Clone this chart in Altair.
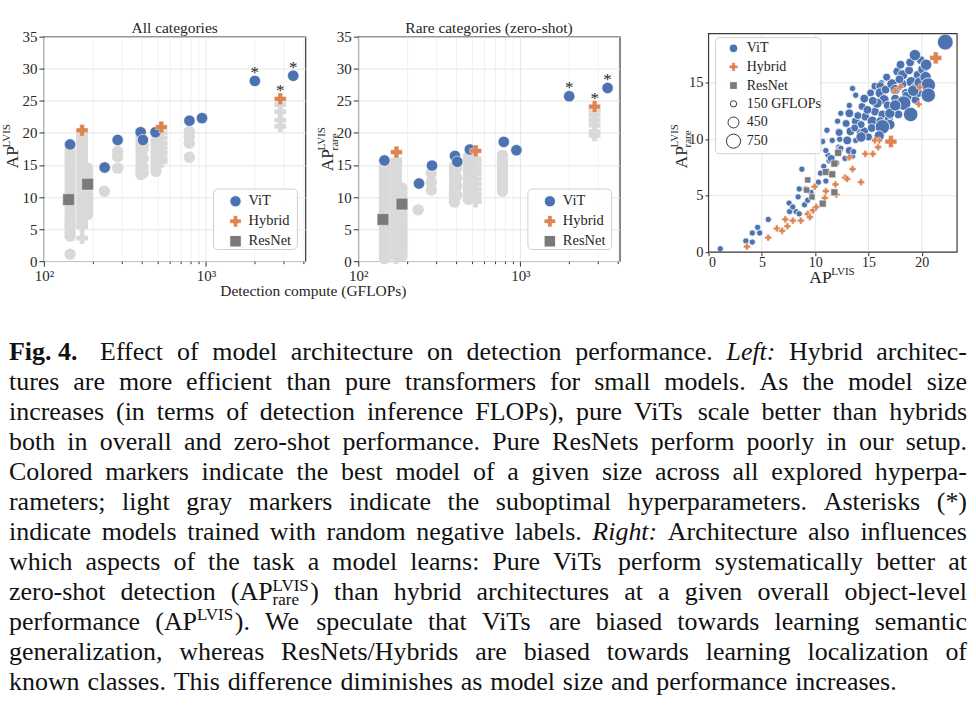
import re
import altair as alt
import pandas as pd

FONT = "Liberation Serif"
BLUE = "#4c72b0"
ORANGE = "#dd8452"
DARKGRAY = "#7a7a7a"
LIGHTGRAY = "#d9d9d9"
TXT = "#262626"
FRAME = "#3a3a3a"
GRID = "#e6e6e6"

# ---------------- left panels: best models ----------------
vit_gflops = [145, 237, 285, 395, 408, 488, 790, 945, 2000, 3450]
vit_ap_all = [18.2, 14.6, 18.9, 20.1, 18.9, 20.1, 21.9, 22.3, 28.1, 28.9]
vit_ap_rare = [15.7, 12.1, 14.9, 16.4, 15.5, 17.4, 18.6, 17.3, 25.7, 27.0]
vit_star = [0, 0, 0, 0, 0, 0, 0, 0, 1, 1]
hyb_gflops = [172, 530, 2870]
hyb_ap_all = [20.4, 20.9, 25.3]
hyb_ap_rare = [17.0, 17.2, 24.1]
hyb_star = [0, 0, 1]
res_gflops = [142, 186]
res_ap_all = [9.6, 12.0]
res_ap_rare = [6.5, 8.9]

# ---------------- left panels: suboptimal hyperparameters (light gray) ----------------
gray_all_circles = {
    145: [17.4, 16.8, 16.1, 15.5, 14.8, 14.2, 13.5, 12.9, 12.2, 11.6, 10.9, 10.3, 9.6, 9.0,
          8.3, 7.7, 7.0, 6.4, 5.7, 5.4, 4.5, 3.9, 1.1],
    186: [14.5, 13.6, 12.8, 11.2, 10.4, 9.6, 8.8, 8.0, 7.3],
    236: [10.9],
    285: [17.1, 16.3, 14.5],
    397: [19.4, 18.6, 17.9, 17.1, 16.4, 15.6, 14.9, 14.1, 13.5],
    410: [18.2, 17.5, 16.0, 14.6, 13.8],
    491: [18.7, 17.9, 17.1, 16.3, 15.5, 14.7, 14.0],
    788: [20.2, 19.4, 18.4, 16.2],
}
gray_all_crosses = {
    172: [20.0, 19.3, 18.6, 17.9, 17.2, 16.5, 15.8, 15.1, 14.4, 13.7, 13.0, 12.3, 11.6, 10.9,
          10.2, 9.5, 8.8, 8.1, 7.4, 6.7, 6.0, 5.4, 3.6],
    532: [20.0, 19.2, 18.4, 17.6, 16.8, 16.0, 15.5],
    2870: [24.4, 23.3, 22.0, 21.0],
}
gray_rare_circles = {
    145: [14.8, 14.1, 13.4, 12.7, 12.0, 11.3, 10.6, 9.9, 9.2, 8.5, 7.8, 7.1, 6.4, 5.7, 5.0,
          4.3, 3.6, 2.9, 2.2, 1.5, 0.8, 0.4],
    186: [11.4, 10.6, 9.8, 8.0, 7.2, 6.4, 5.6, 4.8, 4.0, 3.2, 2.4, 1.6, 0.8],
    234: [8.0],
    282: [13.7, 12.3, 11.1],
    392: [14.8, 14.1, 13.4, 12.7, 12.0, 11.3, 10.6, 9.9, 9.2],
    405: [14.5, 13.0, 11.7, 10.3],
    478: [16.3, 15.6, 14.9, 14.2, 13.5, 12.8, 12.1, 11.4, 10.7, 10.0, 9.6],
    775: [16.5, 15.8, 15.1, 14.4, 13.7, 13.0, 12.3, 11.6, 10.9],
}
gray_rare_crosses = {
    171: [15.8, 15.1, 14.4, 13.7, 13.0, 12.3, 11.6, 10.9, 10.2, 9.5, 8.8, 8.1, 7.4, 6.7, 6.0,
          5.3, 4.6, 3.9, 3.2, 2.5, 1.8, 1.1, 0.5],
    530: [16.0, 15.2, 14.4, 13.6, 12.8, 12.0, 11.2, 10.4, 9.6, 9.3],
    2870: [23.5, 22.8, 22.0, 21.2, 20.2, 19.6],
}

# ---------------- right panel: AP_rare vs AP ----------------
p3_vit_ap = [1.1, 3.5, 4.1, 4.1, 4.6, 4.8, 5.6, 7.55, 7.6, 8.2, 8.5, 8.4, 9.0, 8.75, 9.1, 9.7, 8.5,
             7.9, 9.3, 9.6, 10.3, 10.5, 11.0, 10.8, 11.3, 11.2, 11.5, 12.0, 12.2, 12.15, 11.6, 10.7,
             11.0, 12.25, 12.4, 12.8, 13.5, 13.2, 13.6, 13.0, 13.8, 12.3, 12.25, 11.1, 13.3, 14.1,
             14.6, 12.1, 12.9, 13.8, 14.3, 12.4, 13.2, 13.2, 14.4, 14.6, 13.8, 13.5, 14.7, 15.35,
             15.6, 16.3, 16.1, 16.9, 17.8, 15.0, 15.3, 16.2, 15.2, 15.6, 16.1, 16.1, 16.6, 16.45,
             17.3, 17.2, 17.5, 17.5, 17.7, 18.0, 18.2, 18.2, 18.8, 19.0, 18.5, 19.35, 19.6, 19.9,
             19.4, 19.7, 14.9, 15.8, 16.8, 17.0, 18.6, 19.2, 17.9, 16.7, 15.4, 14.0, 13.7, 18.9,
             20.1, 19.8, 17.0,
             19.35, 20.4, 20.35, 20.6, 20.6, 22.2, 18.3, 18.95, 16.3, 14.3, 16.0, 17.5]
p3_vit_rare = [0.3, 1.0, 0.9, 1.7, 2.2, 1.7, 2.9, 4.35, 3.6, 3.6, 3.4, 4.9, 4.2, 7.35, 5.6, 4.85,
               5.6, 4.0, 4.6, 5.3, 6.2, 7.0, 6.3, 7.6, 8.1, 8.6, 8.3, 7.9, 9.3, 10.7, 9.9, 9.8,
               9.0, 9.0, 9.2, 8.3, 8.5, 9.0, 8.9, 9.9, 9.9, 10.0, 10.6, 10.8, 10.7, 10.7, 10.7,
               11.6, 11.4, 11.6, 11.3, 12.3, 12.3, 13.0, 12.9, 13.6, 13.9, 14.5, 12.0, 11.6, 12.45,
               12.2, 11.6, 11.8, 12.2, 10.2, 11.0, 15.0, 14.1, 14.7, 14.7, 14.1, 14.4, 13.5, 12.9,
               14.9, 14.4, 13.6, 16.0, 16.6, 15.7, 14.9, 16.1, 15.1, 14.1, 14.6, 15.7, 17.0, 13.5,
               14.1, 12.6, 13.2, 13.0, 12.3, 13.8, 14.3, 15.3, 15.5, 13.4, 12.1, 11.0, 16.8,
               16.2, 15.0, 11.3,
               17.45, 16.6, 15.5, 14.8, 13.9, 18.6, 13.2, 12.2, 11.1, 10.2, 10.3, 13.0]
p3_vit_gflops = [150, 150, 150, 150, 150, 150, 150, 150, 150, 150, 150, 150, 150, 150, 150, 150,
                 150, 150, 150, 150, 150, 150, 150, 150, 150, 150, 240, 150, 150, 150, 150, 150,
                 150, 240, 150, 150, 150, 240, 150, 290, 150, 150, 240, 150, 290, 150, 290, 150,
                 240, 290, 240, 150, 290, 150, 240, 290, 150, 150, 290, 400, 290, 290, 290, 290,
                 290, 240, 290, 150, 240, 240, 290, 400, 290, 400, 400, 400, 400, 290, 290, 290,
                 400, 290, 290, 400, 290, 290, 290, 290, 290, 290, 290, 400, 290, 400, 400, 490,
                 290, 240, 290, 240, 240, 290, 400, 490, 400,
                 490, 490, 490, 790, 790, 945, 790, 790, 790, 400, 400, 490]

p3_hyb_ap = [3.6, 5.6, 6.4, 6.9, 7.4, 7.2, 7.9, 8.65, 9.3, 9.5, 9.8, 10.1, 9.95, 10.9, 11.0, 11.9,
             12.8, 13.0, 13.5, 14.3, 14.7, 15.4, 15.9, 16.0, 17.1, 19.7, 21.3, 13.2, 15.6, 18.0,
             17.5, 19.8, 12.0]
p3_hyb_rare = [0.5, 1.3, 2.1, 1.9, 2.3, 2.9, 2.8, 2.8, 3.4, 3.1, 3.7, 4.0, 5.8, 4.8, 5.4, 6.0,
               6.6, 6.5, 7.35, 6.2, 8.7, 8.7, 9.3, 9.9, 9.8, 13.1, 17.2, 8.4, 9.9, 14.65, 14.3,
               14.6, 5.1]
p3_hyb_gflops = [172, 172, 172, 172, 172, 172, 172, 172, 172, 172, 172, 172, 172, 172, 172, 172,
                 172, 172, 172, 172, 172, 172, 172, 172, 530, 172, 530, 172, 172, 172, 172, 172, 172]

p3_res_ap = [9.2, 9.3, 9.7, 10.7, 11.0, 11.6, 11.8, 11.8, 12.15]
p3_res_rare = [5.5, 6.4, 4.9, 4.3, 7.1, 6.9, 7.85, 5.3, 8.8]
p3_res_gflops = [142, 142, 142, 186, 186, 186, 186, 186, 186]

# ---------------- legends / labels / ticks ----------------
arch_labels = ["ViT", "Hybrid", "ResNet"]
arch_shapes = ["circle", "cross", "square"]
arch_colors = [BLUE, ORANGE, DARKGRAY]
size_legend_gflops = [150, 450, 750]
size_legend_labels = ["150 GFLOPs", "450", "750"]
x_ticks = [100, 200, 300, 400, 500, 600, 700, 800, 900, 1000, 2000, 3000, 4000]
y_ticks_left = [0, 5, 10, 15, 20, 25, 30, 35]
p3_x_ticks = [0, 5, 10, 15, 20]
p3_y_ticks = [0, 5, 10, 15]

# ---------------- caption ----------------
caption_lines = [
    "B|Fig.~4. Effect of model architecture on detection performance. I|Left: Hybrid architec-",
    "tures are more efficient than pure transformers for small models. As the model size",
    "increases (in terms of detection inference FLOPs), pure ViTs scale better than hybrids",
    "both in overall and zero-shot performance. Pure ResNets perform poorly in our setup.",
    "Colored markers indicate the best model of a given size across all explored hyperpa-",
    "rameters; light gray markers indicate the suboptimal hyperparameters. Asterisks (*)",
    "indicate models trained with random negative labels. I|Right: Architecture also influences",
    "which aspects of the task a model learns: Pure ViTs perform systematically better at",
    "zero-shot detection (AP^LVIS_rare) than hybrid architectures at a given overall object-level",
    "performance (AP^LVIS). We speculate that ViTs are biased towards learning semantic",
    "generalization, whereas ResNets/Hybrids are biased towards learning localization of",
    "known classes. This difference diminishes as model size and performance increases.",
]

# ======================================================================
CAP_SIZE = 26
SCRIPT_SIZE = 17
ORIGIN_X, ORIGIN_Y = 43, 35  # absolute position of first panel's plot area

W_REG = {' ': 250, '(': 333, ')': 333, '*': 500, ',': 250, '-': 333, '.': 250,
         '/': 278, ':': 278, ';': 278, 'A': 722, 'B': 667, 'C': 667, 'D': 722, 'E': 611,
         'F': 556, 'G': 722, 'H': 722, 'I': 333, 'J': 389, 'K': 722, 'L': 611, 'M': 889,
         'N': 722, 'O': 722, 'P': 556, 'Q': 722, 'R': 667, 'S': 556, 'T': 611, 'U': 722,
         'V': 722, 'W': 944, 'X': 722, 'Y': 722, 'Z': 611, 'a': 444, 'b': 500, 'c': 444,
         'd': 500, 'e': 444, 'f': 333, 'g': 500, 'h': 500, 'i': 278, 'j': 278, 'k': 500,
         'l': 278, 'm': 778, 'n': 500, 'o': 500, 'p': 500, 'q': 500, 'r': 333, 's': 389,
         't': 278, 'u': 500, 'v': 500, 'w': 722, 'x': 500, 'y': 500, 'z': 444}
W_BOLD = dict(W_REG, F=611)
W_ITAL = dict(W_REG, L=556, f=278, R=611, **{':': 333})


def seg_width(text, style):
    tbl = W_BOLD if style == "b" else W_ITAL if style == "i" else W_REG
    size = SCRIPT_SIZE if style in ("sup", "sub") else CAP_SIZE
    return sum(tbl.get(c, 500) for c in text) / 1000 * size


def parse_word(w):
    if w.startswith("B|"):
        return [(w[2:].replace("~", " "), "b")]
    if w.startswith("I|"):
        return [(w[2:], "i")]
    m = re.match(r"^(.*?)\^([A-Za-z]+)(?:_([A-Za-z]+))?(.*)$", w)
    if m:
        parts = [(m.group(1), "n"), (m.group(2), "sup")]
        if m.group(3):
            parts.append((m.group(3), "sub"))
        parts.append((m.group(4), "n"))
        return parts
    return [(w, "n")]


def word_width(parts):
    tot, k = 0.0, 0
    while k < len(parts):
        t, s = parts[k]
        if s == "sup":
            w = seg_width(t, s)
            if k + 1 < len(parts) and parts[k + 1][1] == "sub":
                w = max(w, seg_width(parts[k + 1][0], "sub"))
                k += 1
            tot += w
        else:
            tot += seg_width(t, s)
        k += 1
    return tot


cap_rows = []
LEFT, RIGHT = 8, 968
for li, line in enumerate(caption_lines):
    words = [parse_word(w) for w in line.split(" ")]
    widths = [word_width(p) for p in words]
    extra = [9 if p[0][1] == "b" else 0 for p in words]
    base_y = 359.5 + 30 * li
    if li < len(caption_lines) - 1:
        gap = (RIGHT - LEFT - sum(widths) - sum(extra)) / (len(words) - 1)
    else:
        gap = CAP_SIZE * 0.3
    x = LEFT
    for parts, w, ex in zip(words, widths, extra):
        cur = x
        k = 0
        while k < len(parts):
            t, s = parts[k]
            if s == "sup":
                cap_rows.append((t, cur, base_y - 9.5, "s"))
                ww = seg_width(t, s)
                if k + 1 < len(parts) and parts[k + 1][1] == "sub":
                    cap_rows.append((parts[k + 1][0], cur, base_y + 5.5, "s"))
                    ww = max(ww, seg_width(parts[k + 1][0], "sub"))
                    k += 1
                cur += ww
            else:
                if t:
                    cap_rows.append((t, cur, base_y, s))
                cur += seg_width(t, s)
            k += 1
        x += w + ex + gap

cap_df = pd.DataFrame(cap_rows, columns=["text", "ax", "ay", "style"])
cap_df["px"] = cap_df["ax"] - ORIGIN_X
cap_df["py"] = cap_df["ay"] - ORIGIN_Y


def px(field):
    return alt.X(f"{field}:Q", scale=None, axis=None)


def py(field):
    return alt.Y(f"{field}:Q", scale=None, axis=None)


def flatten(d):
    return pd.DataFrame([(g, v) for g, vals in d.items() for v in vals], columns=["g", "v"])


def text_parts(parts_df, angle=0):
    kw = {"angle": angle} if angle else {}
    return alt.Chart(parts_df).mark_text(
        align="left", baseline="alphabetic", font=FONT, color=TXT, **kw
    ).encode(x=px("px"), y=py("py"), text="t:N", size=alt.Size("fs:Q", scale=None, legend=None))


def legend_layers(x0, y0, x1, y1, mx, tx, ys, labels, shapes, fills, strokes, sizes, fsize):
    box = alt.Chart(pd.DataFrame({"a": [0]})).mark_rect(
        fill="white", stroke="#cccccc", strokeWidth=1, cornerRadius=4, opacity=0.9
    ).encode(x=alt.value(x0), x2=alt.value(x1), y=alt.value(y0), y2=alt.value(y1))
    ldf = pd.DataFrame({"label": labels, "shape": shapes, "fill": fills, "stroke": strokes,
                        "sz": sizes, "ly": ys})
    ldf["mx"] = mx
    ldf["tx"] = tx
    marks = alt.Chart(ldf).mark_point(strokeWidth=1, opacity=1).encode(
        x=px("mx"), y=py("ly"),
        shape=alt.Shape("shape:N", scale=None, legend=None),
        fill=alt.Fill("fill:N", scale=None, legend=None),
        stroke=alt.Stroke("stroke:N", scale=None, legend=None),
        size=alt.Size("sz:Q", scale=None, legend=None),
    )
    texts = alt.Chart(ldf).mark_text(align="left", baseline="middle", font=FONT,
                                     fontSize=fsize, color=TXT).encode(
        x=px("tx"), y=py("ly"), text="label:N")
    return [box, marks, texts]


def single_text(t, x, y, size, align="center"):
    return alt.Chart(pd.DataFrame({"t": [t], "x": [x], "y": [y]})).mark_text(
        font=FONT, fontSize=size, color=TXT, align=align, baseline="alphabetic"
    ).encode(x=px("x"), y=py("y"), text="t:N")


W_LEFT, H_LEFT = 262, 225


def left_panel(best, gray_c, gray_x, title, rare, first):
    xs = alt.Scale(type="log", domain=[100, 4100], nice=False)
    ys = alt.Scale(domain=[0, 35], nice=False)
    is_major = "datum.value == 100 || datum.value == 1000"
    xax = alt.Axis(values=x_ticks, title=None, labelFlush=False,
                   labelExpr="datum.value == 100 ? '10\u00b2' : datum.value == 1000 ? '10\u00b3' : ''",
                   tickSize={"condition": {"test": is_major, "value": 5}, "value": 2.5},
                   gridOpacity={"condition": {"test": is_major, "value": 1}, "value": 0.55})
    yax = alt.Axis(values=y_ticks_left, title=None)
    X = alt.X("g:Q", scale=xs, axis=xax)
    Y = alt.Y("v:Q", scale=ys, axis=yax)

    vit_df = pd.DataFrame({"g": vit_gflops, "v": best[0], "star": vit_star})
    hyb_df = pd.DataFrame({"g": hyb_gflops, "v": best[1], "star": hyb_star})
    res_df = pd.DataFrame({"g": res_gflops, "v": best[2]})

    lay = [
        alt.Chart(flatten(gray_c)).mark_point(shape="circle", filled=True, size=130,
                                              fill=LIGHTGRAY, strokeWidth=0, opacity=1).encode(x=X, y=Y),
        alt.Chart(flatten(gray_x)).mark_point(shape="cross", filled=True, size=140,
                                              fill=LIGHTGRAY, strokeWidth=0, opacity=1).encode(x=X, y=Y),
        alt.Chart(vit_df).mark_point(shape="circle", filled=True, size=130, fill=BLUE,
                                     stroke="white", strokeWidth=0.6, opacity=1).encode(x=X, y=Y),
        alt.Chart(hyb_df).mark_point(shape="cross", filled=True, size=140, fill=ORANGE,
                                     stroke="white", strokeWidth=0.4, opacity=1).encode(x=X, y=Y),
        alt.Chart(res_df).mark_point(shape="square", filled=True, size=135, fill=DARKGRAY,
                                     stroke="white", strokeWidth=0.4, opacity=1).encode(x=X, y=Y),
        alt.Chart(pd.concat([vit_df, hyb_df])).transform_filter("datum.star == 1").mark_text(
            text="*", font=FONT, fontSize=17, color=TXT, baseline="alphabetic", dy=-3
        ).encode(x=X, y=Y),
    ]
    data_layer = alt.layer(*lay)

    # overlay (pixel positions relative to the plot area)
    if rare:
        lab = pd.DataFrame({"t": ["AP", "LVIS", "rare"], "px": [-25, -33, -20],
                            "py": [135, 114, 114], "fs": [17.5, 11, 11]})
    else:
        lab = pd.DataFrame({"t": ["AP", "LVIS"], "px": [-25.5, -33.5], "py": [132, 111],
                            "fs": [17.5, 11]})
    over = [text_parts(lab, angle=270), single_text(title, W_LEFT / 2, -4, 15.5)]
    over += legend_layers(170, 152.7, 254, 213.3, 192, 205, [165, 185, 205], arch_labels,
                          arch_shapes, arch_colors, ["white"] * 3, [130, 140, 135], 14.5)
    if first:
        over.append(single_text("Detection compute (GFLOPs)", 270, 260, 15.5))
        for style, props in [("n", {}), ("b", {"fontWeight": "bold"}),
                             ("i", {"fontStyle": "italic"}), ("s", {})]:
            fs = SCRIPT_SIZE if style == "s" else CAP_SIZE
            over.append(alt.Chart(cap_df).transform_filter(f"datum.style == '{style}'").mark_text(
                align="left", baseline="alphabetic", font=FONT, fontSize=fs, color="#111111",
                **props).encode(x=px("px"), y=py("py"), text="text:N"))
        # invisible frame that fixes the full figure extent (0,0)-(976,705)
        over.append(alt.Chart(pd.DataFrame({"a": [0]})).mark_rect(opacity=0).encode(
            x=alt.value(-ORIGIN_X), x2=alt.value(976 - ORIGIN_X),
            y=alt.value(-ORIGIN_Y), y2=alt.value(705 - ORIGIN_Y)))
    over_layer = alt.layer(*over)
    return alt.layer(data_layer, over_layer).resolve_scale(
        x="independent", y="independent", size="independent"
    ).properties(width=W_LEFT, height=H_LEFT)


# right panel: its view starts 53px after panel 2; the plot itself is shifted
# right by DX and up by DY inside that view
DX, DY = 36, 3
W3, H3 = 249, 219


def right_panel():
    xs = alt.Scale(domain=[0, 23.3], range=[DX, DX + W3], nice=False)
    ys = alt.Scale(domain=[0, 19.35], range=[H3 - DY, -DY], nice=False)
    ss = alt.Scale(domain=[150, 750], range=[40, 200])
    X = alt.X("ap:Q", scale=xs, axis=alt.Axis(values=p3_x_ticks, title=None, grid=False,
                                              offset=-DY, tickSize=3.5, labelPadding=0,
                                              labelFontSize=14))
    Y = alt.Y("rare:Q", scale=ys, axis=alt.Axis(values=p3_y_ticks, title=None, grid=False,
                                                offset=-DX, tickSize=3.5, labelPadding=2,
                                                labelFontSize=14.5))
    S = alt.Size("g:Q", scale=ss, legend=None)
    vit = pd.DataFrame({"ap": p3_vit_ap, "rare": p3_vit_rare, "g": p3_vit_gflops})
    hyb = pd.DataFrame({"ap": p3_hyb_ap, "rare": p3_hyb_rare, "g": p3_hyb_gflops})
    res = pd.DataFrame({"ap": p3_res_ap, "rare": p3_res_rare, "g": p3_res_gflops})
    vgrid = alt.Chart(pd.DataFrame({"ap": p3_x_ticks})).mark_rule(color=GRID, strokeWidth=1).encode(
        x=X, y=alt.value(-DY), y2=alt.value(H3 - DY))
    hgrid = alt.Chart(pd.DataFrame({"rare": p3_y_ticks})).mark_rule(color=GRID, strokeWidth=1).encode(
        y=Y, x=alt.value(DX), x2=alt.value(DX + W3))
    data_layer = alt.layer(
        vgrid, hgrid,
        alt.Chart(vit).mark_point(shape="circle", filled=True, fill=BLUE, stroke="white",
                                  strokeWidth=0.8, opacity=1).encode(x=X, y=Y, size=S),
        alt.Chart(hyb).mark_point(shape="cross", filled=True, fill=ORANGE, stroke="white",
                                  strokeWidth=0.4, opacity=1).encode(x=X, y=Y, size=S),
        alt.Chart(res).mark_point(shape="square", filled=True, fill=DARKGRAY, stroke="white",
                                  strokeWidth=0.6, opacity=1).encode(x=X, y=Y, size=S),
    )
    lab_y = pd.DataFrame({"t": ["AP", "LVIS", "rare"], "px": [DX - 22, DX - 30.5, DX - 17.5],
                          "py": [135 - DY, 114 - DY, 114 - DY], "fs": [17.5, 11, 11]})
    lab_x = pd.DataFrame({"t": ["AP", "LVIS"], "px": [DX + 101, DX + 123],
                          "py": [249.5 - DY, 242 - DY], "fs": [17.5, 11]})
    size_px = [40 + (g - 150) * 160 / 600 for g in size_legend_gflops]
    frame = alt.Chart(pd.DataFrame({"a": [0]})).mark_rect(
        fill="transparent", stroke=FRAME, strokeWidth=1.2
    ).encode(x=alt.value(DX), x2=alt.value(DX + W3), y=alt.value(-DY), y2=alt.value(H3 - DY))
    over = [text_parts(lab_y, angle=270), text_parts(lab_x)]
    over += legend_layers(DX + 7, 4 - DY, DX + 112.7, 120.3 - DY, DX + 25, DX + 38.3,
                          [y - DY for y in [14.7, 33.3, 52, 70.3, 89, 107.7]],
                          arch_labels + size_legend_labels,
                          arch_shapes + ["circle"] * 3,
                          arch_colors + ["transparent"] * 3,
                          ["white"] * 3 + ["#333333"] * 3,
                          [75, 85, 60] + size_px, 14)
    over.append(frame)
    return alt.layer(data_layer, alt.layer(*over)).resolve_scale(
        x="independent", y="independent", size="independent"
    ).properties(width=DX + W3, height=H3, view=alt.ViewBackground(stroke="transparent"))


p1 = left_panel((vit_ap_all, hyb_ap_all, res_ap_all), gray_all_circles, gray_all_crosses,
                "All categories", False, True)
p2 = left_panel((vit_ap_rare, hyb_ap_rare, res_ap_rare), gray_rare_circles, gray_rare_crosses,
                "Rare categories (zero-shot)", True, False)
p3 = right_panel()

chart = alt.hconcat(p1, p2, p3, spacing=53, bounds="flush").properties(
    padding=0, background="white"
).configure_axis(
    labelFont=FONT, labelFontSize=15, labelColor=TXT, tickColor="#333333", domain=False,
    gridColor=GRID, gridWidth=1, tickWidth=1, tickSize=5, labelPadding=2,
).configure_view(stroke=FRAME, strokeWidth=1.2)

chart.save("out.html", embed_options={"renderer": "svg", "actions": False})
